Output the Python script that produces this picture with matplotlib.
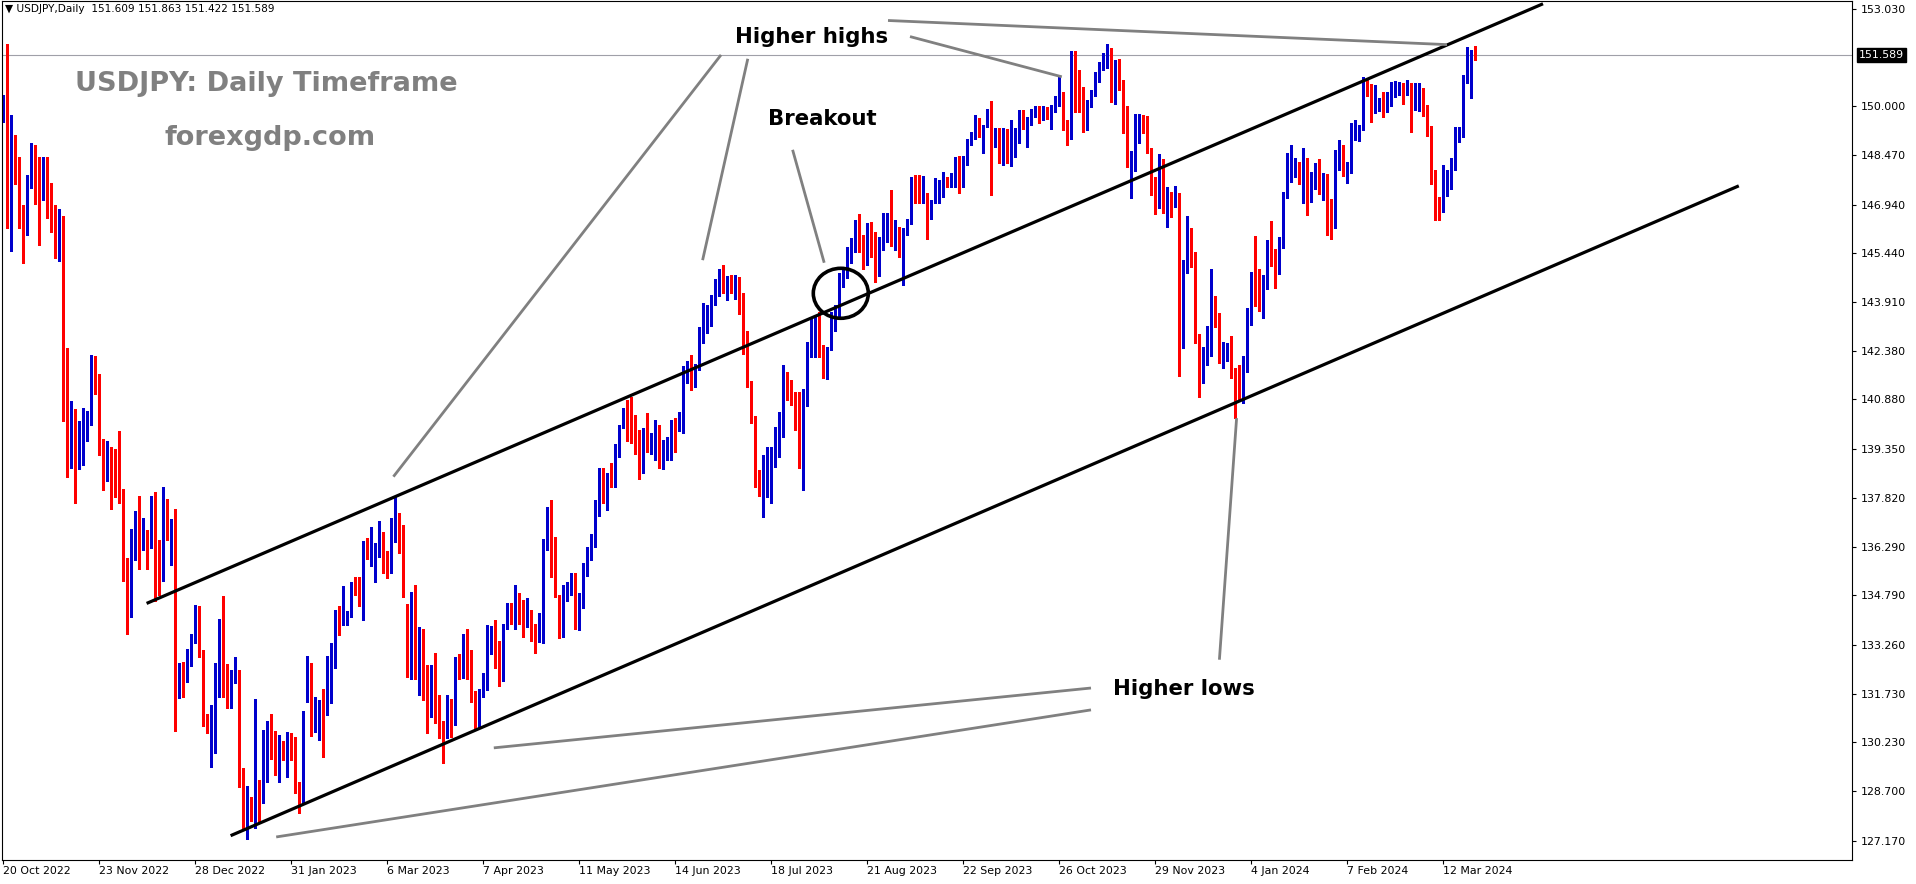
import numpy as np
import matplotlib
matplotlib.use("Agg")
import matplotlib.pyplot as plt
from matplotlib.patches import Ellipse

# USDJPY daily bars, 20 Oct 2022 .. 22 Mar 2024 (one per trading day)
opens = [
    149.55, 150.15, 147.57, 148.85, 147.92, 146.35, 146.2, 147.75, 148.68, 148.25,
    147.8, 148.19, 147.1, 146.6, 145.67, 146.38, 140.96, 139.1, 139.86, 139.2,
    139.4, 140.14, 140.27, 142.1, 141.21, 139.59, 138.5, 139.22, 138.9, 138.57,
    138.05, 135.23, 134.49, 136.64, 136.86, 136.58, 136.63, 136.44, 137.68, 135.53,
    135.43, 137.77, 135.9, 136.88, 131.7, 132.47, 132.3, 132.81, 133.46, 134.46,
    132.99, 131.04, 130.62, 130.99, 132.54, 133.4, 131.9, 131.85, 132.19, 132.35,
    129.18, 127.72, 128.43, 128.0, 128.86, 128.38, 129.41, 130.6, 130.14, 129.57,
    130.21, 129.65, 130.4, 130.0, 128.89, 128.64, 132.42, 132.63, 130.97, 131.3,
    131.54, 131.2, 132.35, 133.07, 134.13, 133.94, 134.15, 134.21, 135.0, 134.85,
    134.65, 136.41, 136.15, 136.15, 136.0, 136.76, 135.94, 135.86, 137.13, 137.32,
    136.13, 134.52, 133.11, 134.21, 133.4, 133.69, 131.8, 131.28, 132.47, 131.41,
    130.76, 130.45, 131.51, 130.83, 132.8, 132.6, 133.38, 132.35, 131.66, 131.28,
    131.75, 132.11, 133.56, 133.63, 133.11, 132.55, 133.76, 134.44, 134.08, 134.65,
    134.23, 133.97, 134.2, 133.73, 133.63, 133.87, 136.25, 137.46, 136.56, 134.75,
    134.25, 134.8, 135.1, 135.2, 134.4, 134.5, 135.7, 136.1, 136.4, 137.65,
    138.71, 137.94, 138.58, 138.53, 139.36, 140.03, 140.55, 140.43, 139.77, 139.33,
    138.74, 139.93, 139.57, 139.6, 140.09, 138.84, 139.29, 139.57, 140.19, 139.98,
    140.2, 141.72, 141.94, 141.4, 141.85, 143.06, 143.5, 143.45, 144.05, 144.44,
    144.72, 144.3, 144.64, 144.05, 144.64, 144.08, 142.1, 141.3, 140.37, 138.46,
    138.01, 138.6, 138.8, 138.8, 139.52, 140.03, 141.57, 141.46, 140.86, 140.24,
    139.43, 140.9, 142.26, 143.3, 143.33, 142.47, 141.67, 142.47, 143.35, 143.68,
    144.7, 144.9, 145.5, 145.58, 146.33, 145.84, 145.22, 146.17, 145.89, 144.78,
    145.84, 146.4, 146.48, 145.84, 146.17, 145.53, 146.05, 146.35, 147.7, 147.65,
    147.2, 146.96, 146.54, 147.06, 147.44, 147.47, 147.7, 147.55, 147.55, 148.32,
    147.5, 148.22, 148.86, 149.05, 149.59, 149.3, 149.38, 149.85, 149.1, 149.1,
    148.63, 149.07, 148.63, 148.63, 149.17, 149.8, 149.31, 149.48, 149.8, 149.88,
    149.72, 149.83, 149.67, 149.88, 150.19, 150.4, 149.48, 149.0, 151.69, 150.97,
    150.38, 149.28, 150.04, 150.42, 151.0, 151.33, 151.43, 151.66, 150.35, 151.3,
    150.71, 149.59, 148.4, 148.38, 149.48, 149.55, 149.38, 148.66, 147.49, 147.24,
    148.14, 146.69, 147.2, 147.13, 147.29, 144.08, 144.88, 146.15, 145.44, 142.88,
    141.82, 142.02, 142.68, 143.82, 143.54, 142.09, 142.19, 142.31, 141.8, 141.33,
    140.81, 141.95, 143.27, 144.59, 144.44, 144.18, 144.3, 145.73, 145.27, 144.8,
    145.63, 147.16, 148.05, 148.05, 148.2, 147.89, 148.29, 147.34, 147.5, 148.06,
    147.29, 147.55, 146.84, 146.41, 148.38, 148.68, 147.89, 148.06, 149.27, 149.26,
    149.26, 150.76, 150.5, 149.83, 150.1, 150.06, 149.85, 150.27, 150.5, 150.5,
    150.62, 150.45, 150.65, 149.9, 149.88, 150.5, 150.0, 149.34, 147.96, 147.0,
    146.75, 147.62, 147.7, 148.27, 149.0, 149.07, 150.79, 151.225, 151.609,
]
highs = [
    150.35, 151.94, 149.72, 149.11, 148.43, 146.92, 147.86, 148.86, 148.8, 148.43,
    148.43, 148.43, 147.6, 146.92, 146.8, 146.59, 142.47, 140.82, 140.57, 140.2,
    140.6, 140.51, 142.27, 142.23, 141.68, 139.64, 139.59, 139.39, 139.34, 139.9,
    138.11, 135.96, 136.86, 137.42, 137.87, 137.19, 136.82, 137.87, 137.99, 136.52,
    138.16, 137.8, 137.16, 137.47, 132.68, 132.73, 133.12, 133.59, 134.49, 134.46,
    133.09, 131.1, 131.38, 132.7, 134.05, 134.77, 132.66, 132.47, 132.86, 132.47,
    129.41, 128.86, 128.51, 131.56, 129.05, 130.6, 130.9, 131.1, 130.58, 130.45,
    130.27, 130.55, 130.5, 130.4, 128.99, 131.2, 132.9, 132.7, 131.64, 131.54,
    131.87, 132.9, 133.3, 134.34, 134.46, 135.08, 134.3, 135.2, 135.37, 135.37,
    136.49, 136.56, 136.9, 136.43, 137.1, 136.76, 136.18, 137.2, 137.86, 137.36,
    136.98, 134.52, 134.88, 135.11, 133.82, 133.73, 132.63, 132.63, 132.99, 131.69,
    130.9, 131.69, 131.57, 132.88, 132.97, 133.59, 133.73, 133.09, 131.83, 131.87,
    132.37, 133.87, 133.84, 134.02, 133.38, 133.9, 134.56, 134.56, 135.11, 134.87,
    134.65, 134.7, 134.33, 133.9, 134.23, 136.53, 137.55, 137.75, 136.61, 134.8,
    135.1, 135.2, 135.5, 135.5, 134.85, 135.8, 136.3, 136.7, 137.75, 138.74,
    138.75, 138.6, 138.91, 139.5, 140.08, 140.6, 140.86, 140.97, 140.4, 139.93,
    139.98, 140.45, 139.83, 140.24, 140.09, 139.62, 139.72, 140.24, 140.29, 140.5,
    141.92, 142.06, 142.26, 141.98, 143.12, 143.87, 143.82, 144.13, 144.61, 144.93,
    145.06, 144.72, 144.75, 144.75, 144.7, 144.18, 143.0, 141.46, 140.37, 138.69,
    139.15, 139.39, 139.41, 140.03, 140.5, 141.95, 141.74, 141.5, 141.12, 141.12,
    141.19, 142.68, 143.45, 143.45, 143.61, 142.57, 142.52, 143.61, 143.82, 144.8,
    145.01, 145.63, 145.89, 146.46, 146.65, 145.99, 146.38, 146.41, 146.1, 145.94,
    146.67, 146.69, 147.39, 146.46, 146.23, 146.2, 146.48, 147.81, 147.86, 147.86,
    147.83, 147.29, 147.08, 147.75, 147.7, 147.96, 147.8, 147.93, 148.43, 148.45,
    148.45, 148.99, 149.2, 149.72, 149.62, 149.41, 149.9, 150.17, 149.31, 149.31,
    149.31, 149.28, 149.57, 149.31, 149.88, 149.88, 149.65, 149.9, 150.0, 150.0,
    150.0, 149.96, 150.03, 150.31, 150.91, 150.45, 149.57, 151.72, 151.72, 151.12,
    150.6, 150.19, 150.5, 151.07, 151.38, 151.64, 151.93, 151.8, 151.43, 151.45,
    150.81, 150.0, 148.61, 149.75, 149.75, 149.72, 149.69, 148.69, 147.8, 148.51,
    148.34, 147.47, 147.34, 147.51, 147.29, 145.21, 146.58, 146.2, 145.47, 142.91,
    142.5, 143.16, 144.95, 144.1, 143.58, 142.68, 142.63, 142.85, 141.85, 141.95,
    142.23, 143.71, 144.85, 145.96, 144.92, 144.75, 145.84, 146.44, 145.55, 145.92,
    147.34, 148.55, 148.8, 148.4, 148.27, 148.7, 148.38, 147.96, 148.24, 148.34,
    147.91, 147.89, 147.1, 148.62, 148.93, 148.79, 148.27, 149.48, 149.57, 149.41,
    150.91, 150.81, 150.69, 150.65, 150.24, 150.45, 150.45, 150.76, 150.79, 150.76,
    150.73, 150.81, 150.71, 150.73, 150.73, 150.55, 150.03, 149.38, 148.0, 147.18,
    148.17, 148.0, 148.38, 149.36, 149.34, 150.97, 151.83, 151.74, 151.863,
]
lows = [
    149.5, 146.22, 145.51, 147.57, 146.22, 145.11, 145.98, 147.45, 146.96, 145.67,
    147.08, 146.53, 146.1, 145.28, 145.18, 140.2, 138.48, 138.75, 137.65, 138.73,
    138.85, 139.59, 140.08, 141.06, 139.16, 138.05, 138.36, 137.47, 137.84, 137.65,
    135.23, 133.6, 134.12, 135.9, 135.6, 136.21, 135.6, 136.27, 134.61, 134.8,
    135.23, 136.5, 135.72, 130.58, 131.6, 131.64, 132.11, 132.6, 133.32, 132.86,
    130.73, 130.5, 129.47, 129.9, 131.64, 131.64, 131.28, 131.28, 132.06, 128.84,
    127.52, 127.21, 127.79, 127.55, 127.76, 128.33, 129.0, 129.69, 129.21, 129.0,
    129.67, 129.15, 129.67, 128.66, 128.04, 128.33, 131.49, 130.42, 130.55, 130.3,
    129.78, 131.07, 131.45, 132.52, 133.56, 133.87, 133.87, 134.13, 134.8, 134.46,
    134.02, 135.91, 135.7, 135.22, 135.99, 135.47, 135.34, 135.5, 136.46, 136.12,
    134.75, 132.26, 132.18, 132.18, 131.69, 131.54, 130.5, 131.0, 130.81, 130.35,
    129.59, 130.35, 130.38, 130.76, 132.18, 132.21, 132.18, 131.49, 130.66, 130.71,
    131.64, 131.85, 132.97, 132.52, 131.97, 132.14, 133.73, 133.9, 133.76, 133.9,
    133.51, 133.82, 133.38, 132.99, 133.35, 133.32, 136.2, 135.37, 134.73, 133.48,
    133.5, 134.6, 134.8, 133.75, 133.7, 134.4, 135.4, 135.9, 136.3, 137.26,
    137.65, 137.44, 138.17, 138.17, 139.1, 139.98, 139.59, 139.54, 139.2, 138.4,
    138.58, 139.26, 139.2, 139.0, 138.74, 138.71, 139.0, 139.0, 139.26, 139.9,
    139.83, 141.38, 141.17, 141.28, 141.8, 142.62, 142.94, 143.16, 143.82, 144.1,
    144.18, 143.97, 144.18, 144.0, 143.54, 142.29, 141.26, 140.14, 138.15, 137.88,
    137.22, 137.86, 137.65, 138.77, 139.08, 139.72, 140.86, 140.71, 139.93, 138.74,
    138.05, 140.68, 142.19, 142.21, 142.21, 141.54, 141.51, 142.42, 143.02, 143.47,
    144.39, 144.65, 145.11, 145.47, 145.47, 144.93, 145.06, 145.32, 144.54, 144.72,
    145.53, 145.78, 145.65, 145.53, 145.32, 144.44, 145.99, 146.33, 146.99, 147.0,
    146.98, 145.86, 146.48, 146.99, 146.98, 147.18, 147.49, 147.49, 147.49, 147.31,
    147.49, 148.17, 148.79, 148.99, 149.05, 148.53, 149.36, 147.24, 148.72, 148.24,
    148.17, 148.24, 148.14, 148.43, 148.84, 149.28, 148.74, 149.41, 149.65, 149.48,
    149.57, 149.59, 149.28, 149.83, 150.0, 149.26, 148.79, 148.97, 149.83, 149.83,
    149.2, 149.26, 149.96, 150.31, 150.76, 151.12, 151.17, 150.14, 150.06, 150.5,
    149.17, 148.1, 147.13, 147.99, 148.86, 149.17, 148.55, 147.23, 146.66, 146.82,
    146.69, 146.23, 146.54, 146.87, 141.61, 142.47, 144.8, 144.99, 142.63, 140.95,
    141.4, 141.95, 142.23, 143.12, 142.02, 141.85, 142.06, 141.54, 140.3, 140.86,
    140.78, 141.74, 143.19, 143.79, 143.64, 143.4, 144.3, 145.03, 144.34, 144.78,
    145.58, 147.13, 147.65, 147.8, 147.58, 146.98, 146.62, 147.03, 147.41, 147.27,
    147.08, 145.99, 145.86, 146.2, 148.0, 147.83, 147.6, 147.93, 148.95, 148.92,
    149.26, 150.31, 149.52, 149.77, 149.86, 149.67, 149.83, 150.0, 150.29, 150.34,
    150.06, 150.34, 149.2, 149.88, 149.86, 149.69, 149.07, 147.58, 146.46, 146.46,
    146.72, 147.2, 147.41, 148.01, 148.89, 149.05, 150.71, 150.24, 151.422,
]
closes = [
    150.25, 147.63, 149.02, 147.92, 146.38, 146.22, 147.49, 148.77, 148.21, 147.92,
    148.25, 146.6, 146.6, 145.67, 146.38, 140.94, 138.75, 139.9, 139.32, 139.53,
    140.23, 140.39, 142.1, 141.19, 139.59, 138.63, 139.13, 138.88, 138.67, 137.99,
    135.31, 134.3, 136.76, 137.03, 136.6, 136.68, 136.58, 137.65, 135.57, 135.43,
    137.8, 136.7, 136.88, 131.7, 132.47, 132.32, 132.81, 133.51, 134.46, 132.99,
    131.04, 130.55, 130.97, 132.63, 133.4, 132.08, 131.85, 132.21, 132.47, 129.28,
    127.81, 128.48, 128.12, 128.9, 128.1, 129.55, 130.66, 130.14, 129.57, 130.19,
    129.72, 130.42, 130.04, 128.92, 128.66, 131.14, 132.63, 130.42, 131.41, 131.52,
    131.38, 132.37, 133.09, 134.15, 133.9, 134.13, 134.25, 135.0, 134.87, 134.65,
    136.49, 136.2, 136.23, 136.18, 136.76, 135.79, 135.89, 137.13, 137.32, 136.12,
    135.06, 133.22, 134.18, 133.4, 133.73, 131.8, 131.28, 132.45, 131.07, 130.81,
    130.69, 131.57, 130.86, 132.85, 132.63, 132.8, 132.35, 131.66, 131.31, 131.75,
    132.13, 133.59, 133.69, 133.11, 132.55, 133.71, 134.46, 134.08, 134.7, 134.23,
    134.11, 134.23, 133.69, 133.63, 133.97, 136.25, 137.44, 136.56, 134.75, 134.23,
    134.8, 135.1, 135.2, 134.4, 134.5, 135.7, 136.1, 136.4, 137.7, 138.69,
    137.94, 138.58, 138.53, 139.46, 140.03, 140.57, 140.4, 139.74, 139.33, 138.74,
    139.95, 139.57, 139.62, 140.19, 138.84, 139.36, 139.59, 140.19, 140.06, 140.3,
    141.88, 141.98, 141.38, 141.88, 143.09, 143.68, 143.57, 144.05, 144.47, 144.8,
    144.26, 144.55, 144.44, 144.72, 144.02, 142.36, 141.3, 140.33, 138.48, 138.01,
    138.77, 138.7, 138.84, 139.64, 140.03, 141.82, 141.43, 140.86, 140.22, 139.43,
    141.15, 142.26, 143.35, 143.32, 142.47, 141.69, 142.47, 143.35, 143.64, 144.75,
    144.9, 145.56, 145.58, 146.38, 145.89, 145.37, 146.23, 145.89, 144.82, 145.86,
    146.46, 146.54, 145.84, 146.23, 145.53, 146.17, 146.48, 147.72, 147.65, 147.29,
    147.65, 146.54, 147.08, 147.49, 147.47, 147.86, 147.58, 147.91, 148.34, 147.55,
    148.34, 148.86, 149.07, 149.67, 149.28, 149.36, 149.87, 149.03, 149.27, 148.48,
    149.25, 148.45, 148.99, 149.2, 149.83, 149.55, 149.55, 149.87, 149.93, 149.77,
    149.85, 149.69, 149.9, 150.27, 150.4, 149.57, 149.05, 151.69, 150.97, 150.42,
    149.31, 150.11, 150.45, 151.02, 151.35, 151.54, 151.74, 150.4, 151.3, 150.73,
    149.55, 148.38, 148.5, 149.52, 149.57, 149.38, 148.69, 147.44, 147.2, 148.22,
    146.79, 147.2, 147.13, 147.29, 144.1, 144.96, 146.15, 145.44, 142.85, 141.88,
    142.16, 142.78, 143.85, 143.56, 142.09, 142.44, 142.39, 141.82, 141.4, 140.99,
    141.69, 143.3, 144.61, 144.51, 144.2, 144.61, 145.79, 145.27, 144.88, 145.79,
    147.18, 148.17, 148.17, 148.17, 148.06, 148.38, 147.5, 147.67, 148.14, 147.47,
    147.6, 146.41, 146.41, 148.38, 148.72, 147.93, 148.17, 149.31, 149.3, 149.36,
    150.89, 150.58, 149.93, 150.19, 150.14, 149.98, 150.29, 150.52, 150.52, 150.73,
    150.5, 150.73, 149.98, 150.5, 150.55, 150.03, 149.38, 148.0, 147.06, 146.93,
    147.67, 147.75, 148.33, 149.07, 149.15, 150.83, 151.25, 151.66, 151.589,
]

date_labels = ["20 Oct 2022", "23 Nov 2022", "28 Dec 2022", "31 Jan 2023", "6 Mar 2023",
               "7 Apr 2023", "11 May 2023", "14 Jun 2023", "18 Jul 2023", "21 Aug 2023",
               "22 Sep 2023", "26 Oct 2023", "29 Nov 2023", "4 Jan 2024", "7 Feb 2024",
               "12 Mar 2024"]
bars_per_label = 24
price_ticks = [153.03, 150.0, 148.47, 146.94, 145.44, 143.91, 142.38, 140.88, 139.35,
               137.82, 136.29, 134.79, 133.26, 131.73, 130.23, 128.70, 127.17]
last_price = 151.589
header = "\u25bc USDJPY,Daily  151.609 151.863 151.422 151.589"

# trend lines, anchored as (bar index, price)
upper_channel = [(35.9, 134.54), (385.0, 153.18)]
lower_channel = [(56.9, 127.32), (433.95, 147.52)]
pointer_lines = [
    [(179.5, 151.59), (97.6, 138.48)],
    [(186.2, 151.47), (174.9, 145.21)],
    [(226.75, 152.16), (264.7, 150.91)],
    [(221.25, 152.66), (361.0, 151.91)],
    [(197.4, 148.64), (205.3, 145.13)],
    [(308.4, 140.30), (304.1, 132.79)],
    [(272.0, 131.91), (122.7, 130.05)],
    [(272.0, 131.23), (68.3, 127.28)],
]
circle_center = (209.45, 144.18)

W, H = 1916, 884


def fx(x):
    return x / W


def fy(y):
    return 1 - y / H


n = min(len(opens), len(highs), len(lows), len(closes))
o = np.array(opens[:n])
h = np.array(highs[:n])
l = np.array(lows[:n])
c = np.array(closes[:n])
x = np.arange(n)

fig = plt.figure(figsize=(W / 100, H / 100), dpi=100)
ax = fig.add_axes([fx(2), 1 - 860 / H, (1852 - 2) / W, 859 / H])
ax.set_xlim(-0.25, 462.25)
ax.set_ylim(126.564, 153.266)

up = c >= o
col = np.where(up, "#0000CC", "#FF0000")
ax.axhline(last_price, color="#A0A0A8", lw=0.8, zorder=1)
ax.vlines(x, l, h, colors=col, linewidth=0.75, antialiased=False, zorder=2)
ax.bar(x, np.maximum(np.abs(c - o), 0.035), bottom=np.minimum(o, c), width=0.75,
       color=col, linewidth=0, antialiased=False, zorder=2)

for seg in (upper_channel, lower_channel):
    ax.plot([seg[0][0], seg[1][0]], [seg[0][1], seg[1][1]], color="black", lw=2.3,
            solid_capstyle="butt", zorder=3)
for seg in pointer_lines:
    ax.plot([seg[0][0], seg[1][0]], [seg[0][1], seg[1][1]], color="#808080", lw=2.0,
            solid_capstyle="butt", zorder=3)
ax.add_patch(Ellipse(circle_center, 13.75, 1.554, fill=False, edgecolor="black",
                     lw=2.6, zorder=4))

# axes, ticks
for s in ax.spines.values():
    s.set_linewidth(0.8)
    s.set_color("black")
ax.yaxis.tick_right()
ax.set_yticks(price_ticks)
ax.set_yticklabels([f"{v:.3f}" for v in price_ticks])
ax.set_xticks([k * bars_per_label for k in range(len(date_labels))])
ax.set_xticklabels(date_labels)
for lbl in ax.get_xticklabels():
    lbl.set_ha("left")
ax.tick_params(axis="both", direction="out", length=3, width=0.8, labelsize=7.9,
               colors="black")
ax.tick_params(axis="y", pad=3.6)
ax.tick_params(axis="x", pad=1.5)

ax.annotate(f"{last_price:.3f}", xy=(1.0, last_price), xycoords=("axes fraction", "data"),
            xytext=(5, 0), textcoords="offset points", ha="left", va="center",
            fontsize=7.9, color="white", annotation_clip=False,
            bbox=dict(boxstyle="square,pad=0.15", facecolor="black", edgecolor="black"))

# texts
fig.text(fx(5), fy(9), header, fontsize=7.6, ha="left", va="center", color="black")
fig.text(fx(266), fy(84), "USDJPY: Daily Timeframe", fontsize=19.5, fontweight="bold",
         color="#808080", ha="center", va="center")
fig.text(fx(270), fy(138), "forexgdp.com", fontsize=19.5, fontweight="bold",
         color="#808080", ha="center", va="center")
fig.text(fx(812), fy(37), "Higher highs", fontsize=15.3, fontweight="bold",
         color="black", ha="center", va="center")
fig.text(fx(822), fy(119), "Breakout", fontsize=15.3, fontweight="bold",
         color="black", ha="center", va="center")
fig.text(fx(1184), fy(689), "Higher lows", fontsize=15.3, fontweight="bold",
         color="black", ha="center", va="center")

fig.savefig("out.png", dpi=100, facecolor="white")
